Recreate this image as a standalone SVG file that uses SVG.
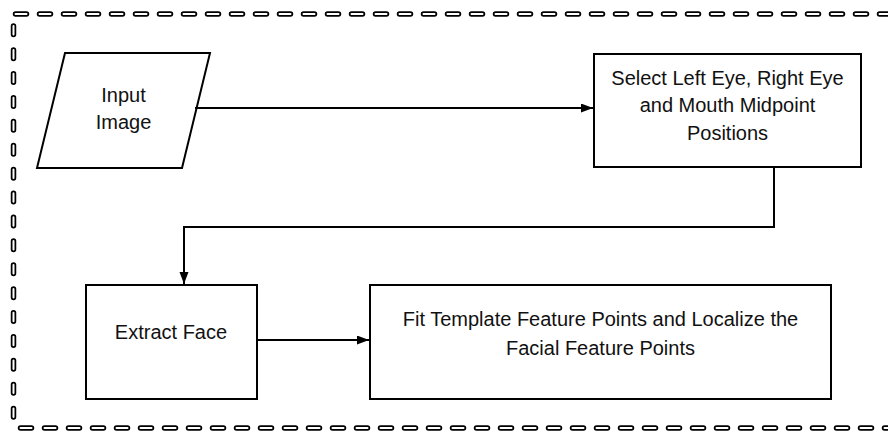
<svg xmlns="http://www.w3.org/2000/svg" width="888" height="433" viewBox="0 0 888 433">
  <defs>
    <marker id="arrow" markerUnits="userSpaceOnUse" markerWidth="13" markerHeight="11" refX="12" refY="4.5" orient="auto">
      <path d="M0,0 L12,4.5 L0,9 z" fill="#000"/>
    </marker>
  </defs>
  <style>
    .shape { fill: #fff; stroke: #000; stroke-width: 2; }
    .label { font-family: "Liberation Sans", Arial, sans-serif; font-size: 20px; fill: #111; text-anchor: middle; }
    .link { fill: none; stroke: #000; stroke-width: 2; }
    .frame-out { fill: none; stroke: #000; stroke-width: 5.5; stroke-linecap: round; }
    .frame-in { fill: none; stroke: #fff; stroke-width: 2; stroke-linecap: round; }
    .h { stroke-dasharray: 11 13; }
    .v { stroke-dasharray: 8.5 15.4; }
  </style>
  <rect width="888" height="433" fill="#fff"/>

  <!-- outer dashed frame (capsule dashes) -->
  <g id="frame">
    <line class="frame-out h" x1="15.5" y1="14" x2="888" y2="14"/>
    <line class="frame-in h" x1="15.5" y1="14" x2="888" y2="14"/>
    <line class="frame-out v" x1="13.5" y1="26" x2="13.5" y2="420"/>
    <line class="frame-in v" x1="13.5" y1="26" x2="13.5" y2="420"/>
    <line class="frame-out h" x1="20.5" y1="428" x2="888" y2="428"/>
    <line class="frame-in h" x1="20.5" y1="428" x2="888" y2="428"/>
  </g>

  <g id="input-image">
    <polygon class="shape" points="65,53 210,53 182,168 37,168"/>
    <text class="label" x="123.5" y="102">Input</text>
    <text class="label" x="123.5" y="129">Image</text>
  </g>

  <g id="select-positions">
    <rect class="shape" x="594" y="54" width="267" height="113"/>
    <text class="label" x="727.5" y="85">Select Left Eye, Right Eye</text>
    <text class="label" x="727.5" y="112">and Mouth Midpoint</text>
    <text class="label" x="727.5" y="140">Positions</text>
  </g>

  <g id="extract-face">
    <rect class="shape" x="86" y="285" width="171" height="114"/>
    <text class="label" x="171" y="339">Extract Face</text>
  </g>

  <g id="fit-template">
    <rect class="shape" x="370" y="285" width="461" height="114"/>
    <text class="label" x="600.5" y="326">Fit Template Feature Points and Localize the</text>
    <text class="label" x="600.5" y="355">Facial Feature Points</text>
  </g>

  <g id="connectors">
    <path class="link" d="M195,108 H593" marker-end="url(#arrow)"/>
    <path class="link" d="M774,167 V227 H184 V284" marker-end="url(#arrow)"/>
    <path class="link" d="M257,340 H369" marker-end="url(#arrow)"/>
  </g>
</svg>
